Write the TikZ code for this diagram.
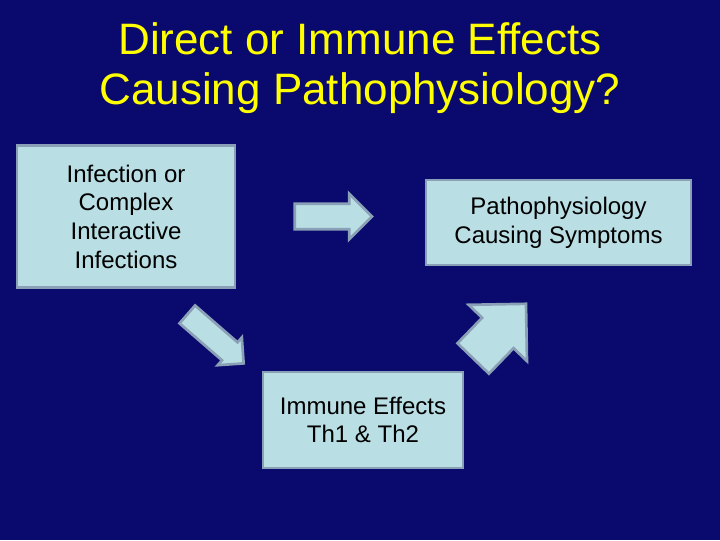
\documentclass[tikz,border=0pt]{standalone}
\usepackage{fontspec}
\setmainfont{Liberation Sans}
\usetikzlibrary{shapes.arrows}
\definecolor{navy}{RGB}{10,10,110}
\definecolor{boxfill}{RGB}{185,222,228}
\definecolor{boxline}{RGB}{138,160,182}
\definecolor{titleyellow}{RGB}{255,255,0}

\begin{document}
\begin{tikzpicture}[x=0.75pt,y=-0.75pt,
    box/.style={draw=boxline, line width=2.2pt, fill=boxfill, align=center,
      inner sep=0pt, font=\fontsize{18}{21.5}\selectfont, text=black},
    blockarrow/.style={single arrow, draw=boxline, line width=2pt, fill=boxfill,
      inner xsep=0pt, single arrow tip angle=90}]
        \fill[navy] (0,0) rectangle (720,540);
        \useasboundingbox (0,0) rectangle (720,540);
        % title
        \node[text=titleyellow, align=center, font=\fontsize{33}{37.5}\selectfont] (title) at (360,68)
            {Direct or Immune Effects\\Causing Pathophysiology?};
        % boxes
        \node[box, minimum width=163.5pt, minimum height=107pt] (infection) at (126,216.5)
            {Infection or\\Complex\\Interactive\\Infections};
        \node[box, minimum width=198.75pt, minimum height=63.75pt] (patho) at (558.5,222.5)
            {Pathophysiology\\Causing Symptoms};
        \node[box, minimum width=150pt, minimum height=72pt] (immune) at (363,420)
            {Immune Effects\\Th1 \& Th2};
        % arrows
        \node[blockarrow, minimum height=58pt, inner ysep=8.6pt, single arrow head extend=7.5pt] (arrRight) at (327,216.5) {};
        \node[blockarrow, minimum height=56pt, inner ysep=7.9pt, single arrow head extend=4.9pt, rotate=-41] (arrDown) at (211,335) {};
        \node[blockarrow, minimum height=57pt, inner ysep=15.4pt, single arrow head extend=14pt, rotate=46] (arrUp) at (492,339) {};
    \end{tikzpicture}
\end{document}
